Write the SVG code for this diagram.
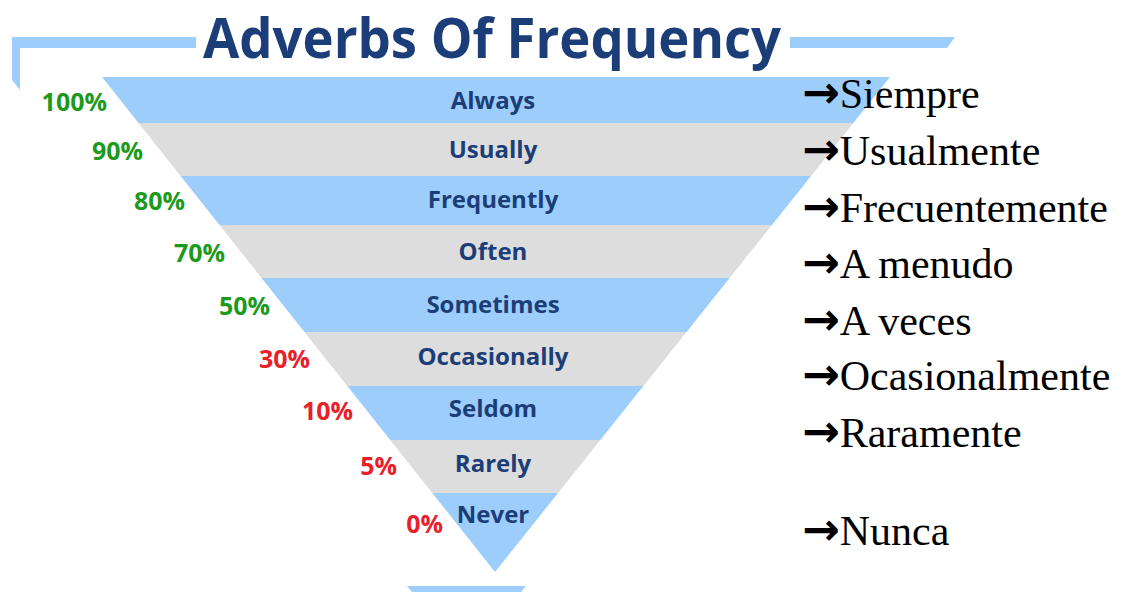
<svg xmlns="http://www.w3.org/2000/svg" width="1122" height="592" viewBox="0 0 1122 592">
  <defs>
    <clipPath id="tri">
      <polygon points="102,77 890,77 495,572"/>
    </clipPath>
    <style>
      .blue { fill: #9DCDFB; }
      .gray { fill: #DDDDDD; }
      .frame { fill: #9DCDFB; }
      .title { font-family: "Open Sans", "Liberation Sans", sans-serif; font-weight: 700; font-size: 55px; fill: #1B3D78; }
      .lbl { font-family: "Open Sans", "Liberation Sans", sans-serif; font-weight: 700; font-size: 24px; fill: #1B3D78; text-anchor: middle; }
      .pct { font-family: "Open Sans", "Liberation Sans", sans-serif; font-weight: 700; font-size: 25px; text-anchor: end; }
      .green { fill: #1C9A1C; }
      .red { fill: #E8202A; }
      .es { font-family: "Liberation Serif", "Times New Roman", serif; font-size: 42px; fill: #000000; }
      .arw { font-family: "DejaVu Sans", sans-serif; font-weight: 700; font-size: 45px; }
    </style>
  </defs>
  <rect width="1122" height="592" fill="#FFFFFF"/>

  <g id="frame">
    <polygon class="frame" points="12,37 196,37 196,48 20,48 20,90 12,80"/>
    <polygon class="frame" points="790,37 955,37 947,48 790,48"/>
    <polygon class="frame" points="407,586 526,586 521,592 412,592"/>
  </g>

  <g id="title">
    <text class="title" x="203" y="58" textLength="578" lengthAdjust="spacingAndGlyphs">Adverbs Of Frequency</text>
  </g>

  <g id="funnel" clip-path="url(#tri)">
    <g id="band-always"><rect class="blue" x="0" y="77" width="1122" height="46"/></g>
    <g id="band-usually"><rect class="gray" x="0" y="123" width="1122" height="53"/></g>
    <g id="band-frequently"><rect class="blue" x="0" y="176" width="1122" height="49"/></g>
    <g id="band-often"><rect class="gray" x="0" y="225" width="1122" height="53"/></g>
    <g id="band-sometimes"><rect class="blue" x="0" y="278" width="1122" height="54"/></g>
    <g id="band-occasionally"><rect class="gray" x="0" y="332" width="1122" height="54"/></g>
    <g id="band-seldom"><rect class="blue" x="0" y="386" width="1122" height="54"/></g>
    <g id="band-rarely"><rect class="gray" x="0" y="440" width="1122" height="53"/></g>
    <g id="band-never"><rect class="blue" x="0" y="493" width="1122" height="80"/></g>
  </g>

  <g id="labels">
    <text class="lbl" x="493" y="109">Always</text>
    <text class="lbl" x="493" y="158">Usually</text>
    <text class="lbl" x="493" y="208">Frequently</text>
    <text class="lbl" x="493" y="260">Often</text>
    <text class="lbl" x="493" y="313">Sometimes</text>
    <text class="lbl" x="493" y="365">Occasionally</text>
    <text class="lbl" x="493" y="417">Seldom</text>
    <text class="lbl" x="493" y="472">Rarely</text>
    <text class="lbl" x="493" y="523">Never</text>
  </g>

  <g id="percentages">
    <text class="pct green" x="107" y="111">100%</text>
    <text class="pct green" x="143" y="160">90%</text>
    <text class="pct green" x="185" y="210">80%</text>
    <text class="pct green" x="225" y="262">70%</text>
    <text class="pct green" x="270" y="315">50%</text>
    <text class="pct red" x="310" y="368">30%</text>
    <text class="pct red" x="353" y="420">10%</text>
    <text class="pct red" x="397" y="475">5%</text>
    <text class="pct red" x="443" y="533">0%</text>
  </g>

  <g id="spanish">
    <text class="es" x="802" y="108"><tspan class="arw">→</tspan>Siempre</text>
    <text class="es" x="802" y="165"><tspan class="arw">→</tspan>Usualmente</text>
    <text class="es" x="802" y="222"><tspan class="arw">→</tspan>Frecuentemente</text>
    <text class="es" x="802" y="278"><tspan class="arw">→</tspan>A menudo</text>
    <text class="es" x="802" y="335"><tspan class="arw">→</tspan>A veces</text>
    <text class="es" x="802" y="390"><tspan class="arw">→</tspan>Ocasionalmente</text>
    <text class="es" x="802" y="447"><tspan class="arw">→</tspan>Raramente</text>
    <text class="es" x="802" y="545"><tspan class="arw">→</tspan>Nunca</text>
  </g>
</svg>
